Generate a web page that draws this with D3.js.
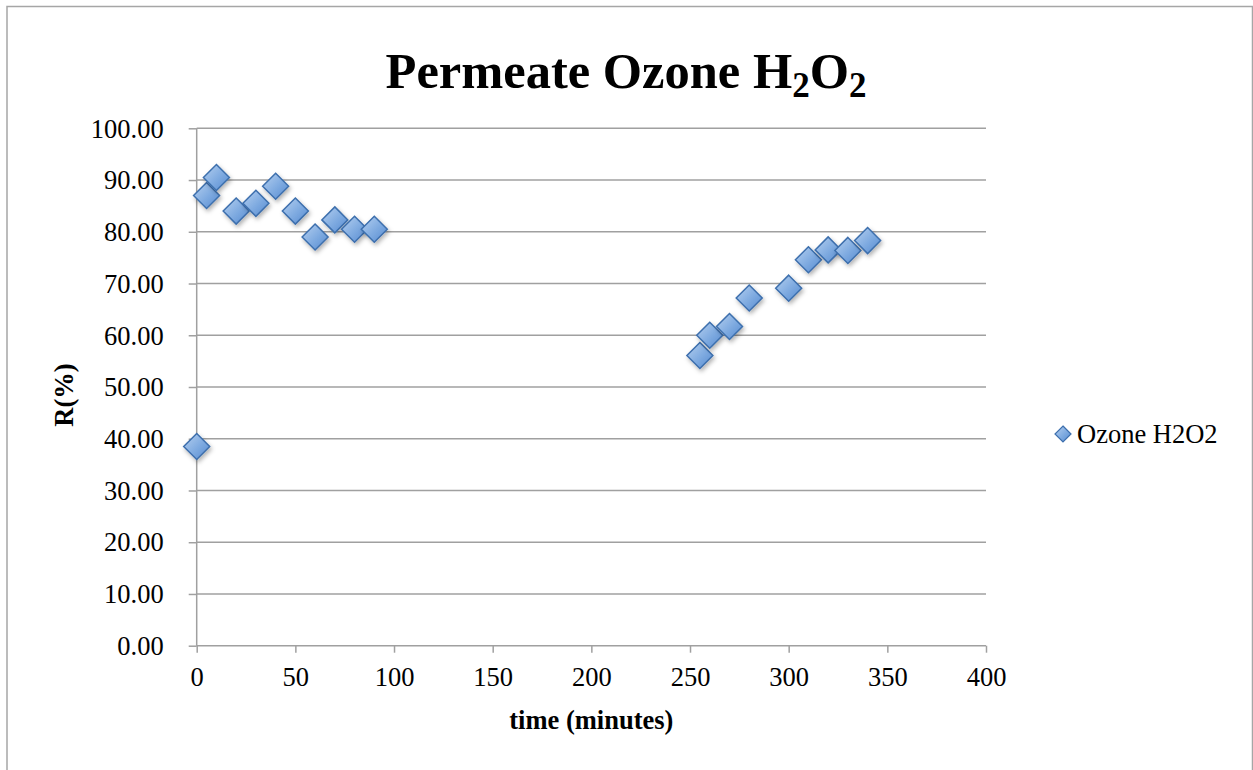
<!DOCTYPE html>
<html>
<head>
<meta charset="utf-8">
<script src="https://cdn.jsdelivr.net/npm/d3@7"></script>
<style>
  html, body { margin: 0; padding: 0; background: #ffffff; }
  svg { display: block; }
  text { font-family: "Liberation Serif", "DejaVu Serif", serif; fill: #000; }
</style>
</head>
<body>
<svg id="chart" width="1253" height="770"></svg>
<script>
// Sampling times (minutes) and measured rejection R(%)
const times = [0, 5, 10, 20, 30, 40, 50, 60, 70, 80, 90,
               255, 260, 270, 280, 300, 310, 320, 330, 340];
const rValues = [38.5, 87.0, 90.5, 84.0, 85.5, 88.8, 84.0, 79.0, 82.3, 80.5, 80.5,
                 56.1, 60.0, 61.7, 67.2, 69.1, 74.6, 76.5, 76.4, 78.3];
const xTicks = [0, 50, 100, 150, 200, 250, 300, 350, 400];
const yTicks = [0, 10, 20, 30, 40, 50, 60, 70, 80, 90, 100];
const seriesName = "Ozone H2O2";

const svg = d3.select("#chart");
const plot = { left: 196.7, right: 986, top: 128.3, bottom: 645.7 };

const x = d3.scaleLinear().domain([0, 400]).range([plot.left, plot.right]);
const y = d3.scaleLinear().domain([0, 100]).range([plot.bottom, plot.top]);

// Outer chart frame
svg.append("rect")
  .attr("x", 7).attr("y", 6.5).attr("width", 1245.5).attr("height", 820)
  .attr("fill", "none").attr("stroke", "#a6a6a6").attr("stroke-width", 1.5);

// Marker fill and shadow
const defs = svg.append("defs");
const grad = defs.append("linearGradient").attr("id", "mk")
  .attr("x1", "0%").attr("y1", "0%").attr("x2", "100%").attr("y2", "100%");
grad.append("stop").attr("offset", "0%").attr("stop-color", "#b6d0f0");
grad.append("stop").attr("offset", "55%").attr("stop-color", "#7eaae0");
grad.append("stop").attr("offset", "100%").attr("stop-color", "#558ad0");
const sh = defs.append("filter").attr("id", "shadow")
  .attr("x", "-50%").attr("y", "-50%").attr("width", "200%").attr("height", "200%");
sh.append("feDropShadow").attr("dx", 1.5).attr("dy", 2.5).attr("stdDeviation", 2)
  .attr("flood-color", "#000").attr("flood-opacity", 0.3);

// Horizontal gridlines
svg.append("g").selectAll("line").data(yTicks.filter(d => d > 0)).join("line")
  .attr("x1", plot.left).attr("x2", plot.right)
  .attr("y1", d => y(d)).attr("y2", d => y(d))
  .attr("stroke", "#a0a0a0").attr("stroke-width", 1.5);

// Y axis
const yAxis = svg.append("g").attr("transform", `translate(${plot.left},0)`)
  .call(d3.axisLeft(y).tickValues(yTicks).tickFormat(d3.format(".2f")).tickSize(8).tickPadding(25));
yAxis.select(".domain").attr("stroke", "#a0a0a0").attr("stroke-width", 1.5)
  .attr("d", `M0,${plot.top}V${plot.bottom}`);
yAxis.selectAll(".tick line").attr("stroke", "#a0a0a0").attr("stroke-width", 1.5);
yAxis.selectAll(".tick text").attr("font-size", 26.5).attr("fill", "#000")
  .attr("font-family", "Liberation Serif").attr("dy", "0.33em");

// X axis
const xAxis = svg.append("g").attr("transform", `translate(0,${plot.bottom})`)
  .call(d3.axisBottom(x).tickValues(xTicks).tickFormat(d3.format("d")).tickSize(7).tickPadding(14));
xAxis.select(".domain").attr("stroke", "#a0a0a0").attr("stroke-width", 1.5)
  .attr("d", `M${plot.left},0H${plot.right}`);
xAxis.selectAll(".tick line").attr("stroke", "#a0a0a0").attr("stroke-width", 1.5);
xAxis.selectAll(".tick text").attr("font-size", 26.5).attr("fill", "#000")
  .attr("font-family", "Liberation Serif");

// Data markers (diamonds)
const diamond = (s) => `M0,${-s}L${s},0L0,${s}L${-s},0Z`;
svg.append("g").selectAll("path").data(times.map((t, i) => [t, rValues[i]])).join("path")
  .attr("d", diamond(13))
  .attr("transform", d => `translate(${x(d[0])},${y(d[1])})`)
  .attr("fill", "url(#mk)").attr("stroke", "#3d6fad").attr("stroke-width", 1.5)
  .attr("filter", "url(#shadow)");

// Title with subscripts
const title = svg.append("text").attr("x", 626).attr("y", 88)
  .attr("text-anchor", "middle").attr("font-size", 50.5).attr("font-weight", "bold");
title.append("tspan").text("Permeate Ozone H");
title.append("tspan").text("2").attr("font-size", 35).attr("dy", 9);
title.append("tspan").text("O").attr("dy", -9);
title.append("tspan").text("2").attr("font-size", 35).attr("dy", 9);

// Axis titles
svg.append("text").attr("x", (plot.left + plot.right) / 2).attr("y", 729)
  .attr("text-anchor", "middle").attr("font-size", 26.5).attr("font-weight", "bold")
  .text("time (minutes)");
svg.append("text").attr("transform", `translate(73,${(plot.top + plot.bottom) / 2 + 8}) rotate(-90)`)
  .attr("text-anchor", "middle").attr("font-size", 26.5).attr("font-weight", "bold")
  .text("R(%)");

// Legend
const lg = svg.append("g").attr("transform", "translate(1063,434)");
lg.append("path").attr("d", diamond(8))
  .attr("fill", "url(#mk)").attr("stroke", "#3d6fad").attr("stroke-width", 1.2);
lg.append("text").attr("x", 14).attr("dy", "0.35em").attr("font-size", 26.5).text(seriesName);
</script>
</body>
</html>
